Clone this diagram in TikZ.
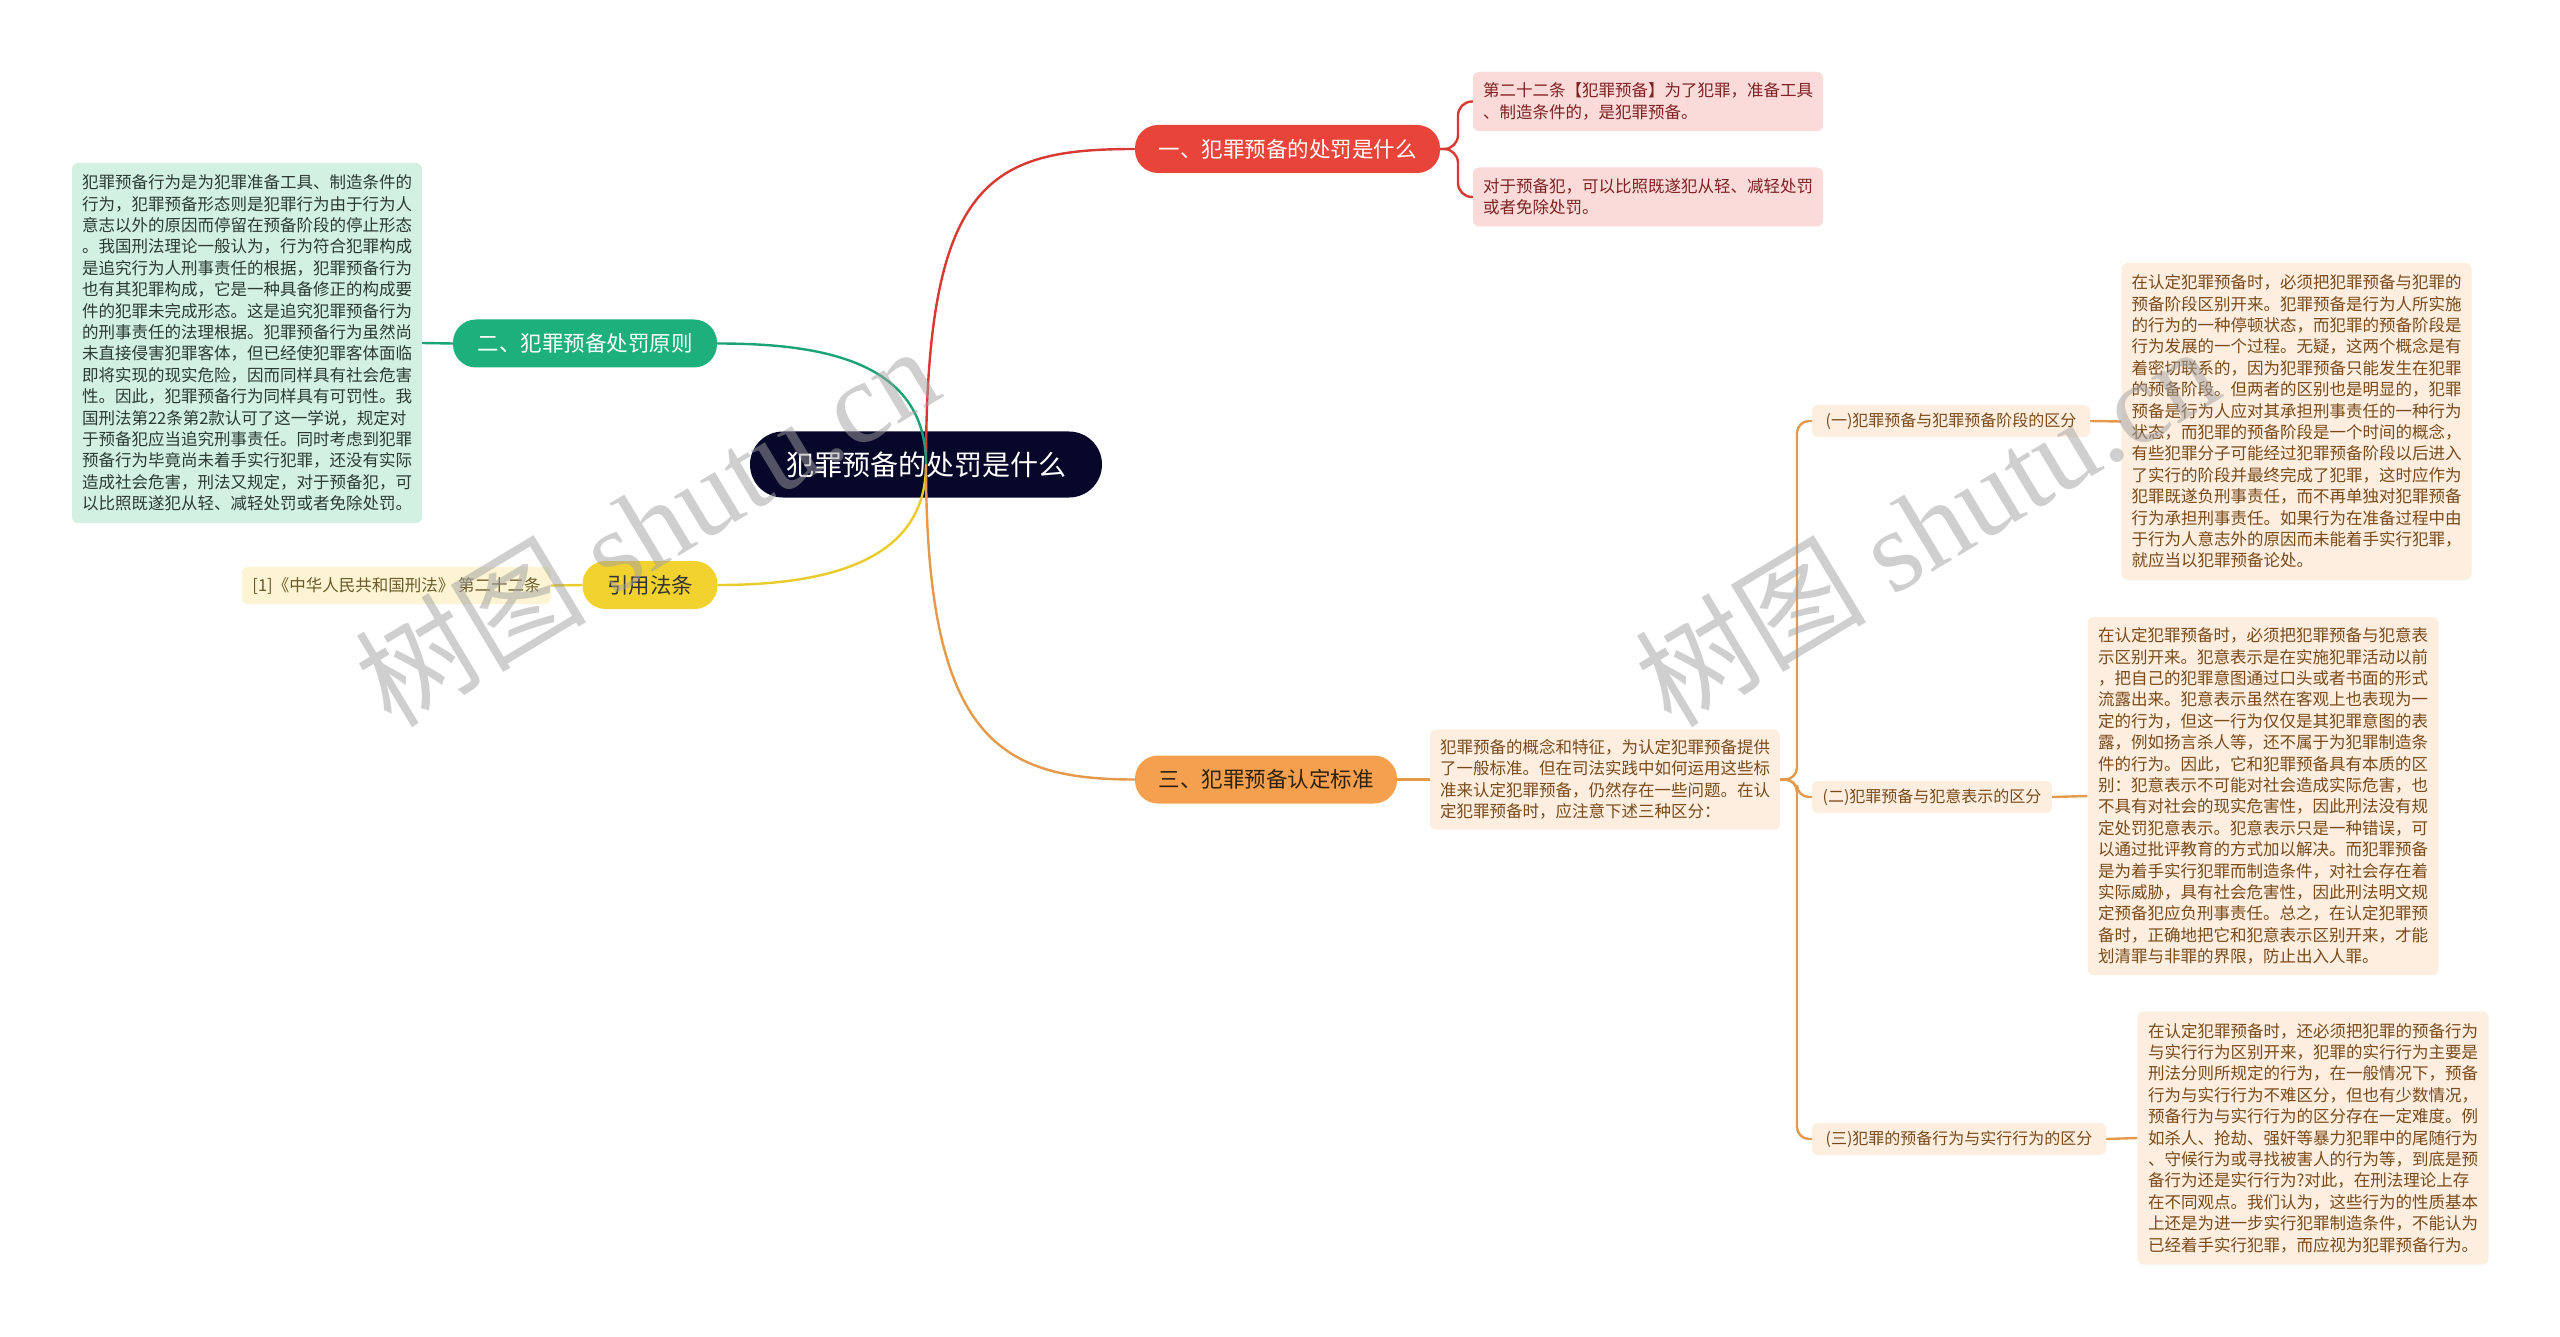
\documentclass[tikz,border=0pt]{standalone}
\usepackage{fontspec}
\setmainfont{Noto Sans CJK SC}
\newfontfamily\wmserif{Liberation Serif}
\definecolor{rootc}{HTML}{07072A}
\definecolor{redc}{HTML}{E8443A}
\definecolor{redl}{HTML}{D63A30}
\definecolor{pinkf}{HTML}{FBDADA}
\definecolor{pinkt}{HTML}{7E2222}
\definecolor{greenc}{HTML}{1DB07D}
\definecolor{greenl}{HTML}{1AA374}
\definecolor{greenf}{HTML}{D3F1E3}
\definecolor{greent}{HTML}{2B3A33}
\definecolor{yellowc}{HTML}{F2D22E}
\definecolor{yellowl}{HTML}{EACB2C}
\definecolor{yellowf}{HTML}{FCF4D2}
\definecolor{yellowt}{HTML}{6B5A2A}
\definecolor{orangec}{HTML}{F4A04E}
\definecolor{orangel}{HTML}{E49A4A}
\definecolor{orangef}{HTML}{FDEEDF}
\definecolor{oranget}{HTML}{7A4A1A}
\definecolor{wmc}{HTML}{A0A0A0}
\newcommand\leaffont{\fontsize{16.5}{21.4}\selectfont}
\newcommand\subfont{\fontsize{16}{20}\selectfont}
\newcommand\branchfont{\fontsize{21.5}{26}\selectfont}
\begin{document}
\begin{tikzpicture}[x=1pt,y=-1pt,
  rootbox/.style={fill=rootc,text=white,rounded corners=33,minimum width=352,minimum height=66,inner sep=0pt,font=\fontsize{28}{32}\selectfont},
  branchbox/.style={rounded corners=23,minimum height=48,inner sep=0pt,font=\branchfont},
  leafbox/.style={rounded corners=6,inner sep=0pt,align=left,font=\leaffont},
  subbox/.style={rounded corners=6,inner sep=0pt,fill=orangef,text=oranget,minimum height=32,font=\subfont},
  conn/.style={line width=2.4pt},
  wm/.style={text=wmc,opacity=0.5,rotate=31,inner sep=0pt}
]
\fill[white] (0,0) rectangle (2560,1337);
\useasboundingbox (0,0) rectangle (2560,1337);

% nodes
\node[rootbox] (root) at (926,464.5) {犯罪预备的处罚是什么};
\node[branchbox,fill=redc,text=white,minimum width=305] (b1) at (1287.5,149) {一、犯罪预备的处罚是什么};
\node[branchbox,fill=greenc,text=white,minimum width=264] (b2) at (585,343.5) {二、犯罪预备处罚原则};
\node[branchbox,fill=yellowc,text=black!80,minimum width=135] (b3) at (650,585) {引用法条};
\node[branchbox,fill=orangec,text={black!75!brown},minimum width=262] (b4) at (1266,779.5) {三、犯罪预备认定标准};

\node[leafbox,fill=pinkf,text=pinkt,minimum width=350,minimum height=59] (p1) at (1648,101.5) {第二十二条【犯罪预备】为了犯罪，准备工具\\、制造条件的，是犯罪预备。};
\node[leafbox,fill=pinkf,text=pinkt,minimum width=350,minimum height=59] (p2) at (1648,197) {对于预备犯，可以比照既遂犯从轻、减轻处罚\\或者免除处罚。};

\node[leafbox,fill=greenf,text=greent,minimum width=350,minimum height=360] (g) at (247,343) {犯罪预备行为是为犯罪准备工具、制造条件的\\行为，犯罪预备形态则是犯罪行为由于行为人\\意志以外的原因而停留在预备阶段的停止形态\\。我国刑法理论一般认为，行为符合犯罪构成\\是追究行为人刑事责任的根据，犯罪预备行为\\也有其犯罪构成，它是一种具备修正的构成要\\件的犯罪未完成形态。这是追究犯罪预备行为\\的刑事责任的法理根据。犯罪预备行为虽然尚\\未直接侵害犯罪客体，但已经使犯罪客体面临\\即将实现的现实危险，因而同样具有社会危害\\性。因此，犯罪预备行为同样具有可罚性。我\\国刑法第22条第2款认可了这一学说，规定对\\于预备犯应当追究刑事责任。同时考虑到犯罪\\预备行为毕竟尚未着手实行犯罪，还没有实际\\造成社会危害，刑法又规定，对于预备犯，可\\以比照既遂犯从轻、减轻处罚或者免除处罚。};

\node[leafbox,fill=yellowf,text=yellowt,minimum width=309,minimum height=37] (y) at (396.5,585.5) {[1]《中华人民共和国刑法》 第二十二条};

\node[leafbox,fill=orangef,text=oranget,minimum width=350,minimum height=100] (m) at (1605,779.5) {犯罪预备的概念和特征，为认定犯罪预备提供\\了一般标准。但在司法实践中如何运用这些标\\准来认定犯罪预备，仍然存在一些问题。在认\\定犯罪预备时，应注意下述三种区分：};

\node[subbox,minimum width=278] (s1) at (1951,421) {(一)犯罪预备与犯罪预备阶段的区分};
\node[subbox,minimum width=240] (s2) at (1932,797) {(二)犯罪预备与犯意表示的区分};
\node[subbox,minimum width=294] (s3) at (1959,1139) {(三)犯罪的预备行为与实行行为的区分};

\node[leafbox,fill=orangef,text=oranget,minimum width=350,minimum height=317] (l1) at (2296.5,421.5) {在认定犯罪预备时，必须把犯罪预备与犯罪的\\预备阶段区别开来。犯罪预备是行为人所实施\\的行为的一种停顿状态，而犯罪的预备阶段是\\行为发展的一个过程。无疑，这两个概念是有\\着密切联系的，因为犯罪预备只能发生在犯罪\\的预备阶段。但两者的区别也是明显的，犯罪\\预备是行为人应对其承担刑事责任的一种行为\\状态，而犯罪的预备阶段是一个时间的概念，\\有些犯罪分子可能经过犯罪预备阶段以后进入\\了实行的阶段并最终完成了犯罪，这时应作为\\犯罪既遂负刑事责任，而不再单独对犯罪预备\\行为承担刑事责任。如果行为在准备过程中由\\于行为人意志外的原因而未能着手实行犯罪，\\就应当以犯罪预备论处。};

\node[leafbox,fill=orangef,text=oranget,minimum width=351,minimum height=358] (l2) at (2263,796) {在认定犯罪预备时，必须把犯罪预备与犯意表\\示区别开来。犯意表示是在实施犯罪活动以前\\，把自己的犯罪意图通过口头或者书面的形式\\流露出来。犯意表示虽然在客观上也表现为一\\定的行为，但这一行为仅仅是其犯罪意图的表\\露，例如扬言杀人等，还不属于为犯罪制造条\\件的行为。因此，它和犯罪预备具有本质的区\\别：犯意表示不可能对社会造成实际危害，也\\不具有对社会的现实危害性，因此刑法没有规\\定处罚犯意表示。犯意表示只是一种错误，可\\以通过批评教育的方式加以解决。而犯罪预备\\是为着手实行犯罪而制造条件，对社会存在着\\实际威胁，具有社会危害性，因此刑法明文规\\定预备犯应负刑事责任。总之，在认定犯罪预\\备时，正确地把它和犯意表示区别开来，才能\\划清罪与非罪的界限，防止出入人罪。};

\node[leafbox,fill=orangef,text=oranget,minimum width=351,minimum height=253] (l3) at (2313,1138) {在认定犯罪预备时，还必须把犯罪的预备行为\\与实行行为区别开来，犯罪的实行行为主要是\\刑法分则所规定的行为，在一般情况下，预备\\行为与实行行为不难区分，但也有少数情况，\\预备行为与实行行为的区分存在一定难度。例\\如杀人、抢劫、强奸等暴力犯罪中的尾随行为\\、守候行为或寻找被害人的行为等，到底是预\\备行为还是实行行为?对此，在刑法理论上存\\在不同观点。我们认为，这些行为的性质基本\\上还是为进一步实行犯罪制造条件，不能认为\\已经着手实行犯罪，而应视为犯罪预备行为。};

% connectors
\coordinate (bk) at (1458,149);
\coordinate (hub) at (1797,779.5);
\draw[conn,redl] (root.center) .. controls (926,180) and (990,149) .. (b1.west);
\draw[conn,greenl] (root.center) .. controls (926,360) and (820,343.5) .. (b2.east);
\draw[conn,yellowl] (root.center) .. controls (926,560) and (830,585) .. (b3.east);
\draw[conn,orangel] (root.center) .. controls (926,740) and (1000,779.5) .. (b4.west);

\draw[conn,redl,rounded corners=14] (b1.east) -- (bk) |- (p1.west);
\draw[conn,redl,rounded corners=14] (b1.east) -- (bk) |- (p2.west);
\draw[conn,greenl] (b2.west) -- (g.east);
\draw[conn,yellowl] (b3.west) -- (y.east);
\draw[conn,orangel] (b4.east) -- (m.west);
\draw[conn,orangel,rounded corners=12] (m.east) -- (hub) |- (s1.west);
\draw[conn,orangel,rounded corners=12] (m.east) -- (hub) |- (s2.west);
\draw[conn,orangel,rounded corners=12] (m.east) -- (hub) |- (s3.west);
\draw[conn,orangel] (s1.east) -- (l1.west);
\draw[conn,orangel] (s2.east) -- (l2.west);
\draw[conn,orangel] (s3.east) -- (l3.west);

% watermarks
\node[wm] (wm1) at (646,525) {\fontsize{116}{120}\selectfont 树图 {\wmserif shutu.cn}};
\node[wm] (wm2) at (1926,525) {\fontsize{116}{120}\selectfont 树图 {\wmserif shutu.cn}};
\end{tikzpicture}
\end{document}
